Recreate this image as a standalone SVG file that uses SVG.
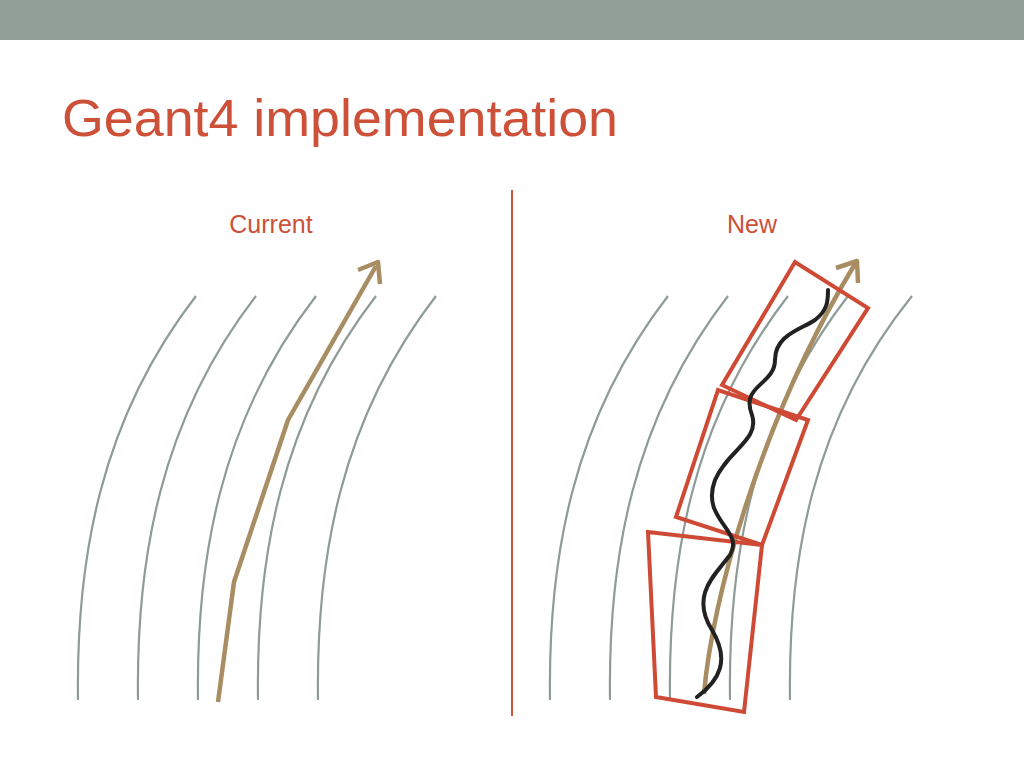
<svg xmlns="http://www.w3.org/2000/svg" width="1024" height="768" viewBox="0 0 1024 768">
<style>
.f{fill:none;stroke:#8d9c96;stroke-width:2.2}
.a{fill:none;stroke:#a88c62;stroke-width:4.5;stroke-linejoin:round}
.r{fill:none;stroke:#cf4a35;stroke-width:4}
.t{font-family:"Liberation Sans",Arial,sans-serif;fill:#cd5038}
</style>
<rect width="1024" height="768" fill="#fff"/>
<rect width="1024" height="40" fill="#929f98"/>
<text class="t" x="62" y="136" font-size="52" textLength="556" lengthAdjust="spacingAndGlyphs">Geant4 implementation</text>
<text class="t" x="271" y="233" font-size="25" text-anchor="middle">Current</text>
<text class="t" x="752" y="233" font-size="25" text-anchor="middle">New</text>
<line x1="512" y1="190" x2="512" y2="716" stroke="#c8553c" stroke-width="2"/>
<g id="fieldL">
<path class="f" d="M78,700 C76,560 100,420 196,296"/>
<path class="f" d="M138,700 C136,560 160,420 256,296"/>
<path class="f" d="M198,700 C196,560 220,420 316,296"/>
<path class="f" d="M258,700 C256,560 280,420 376,296"/>
<path class="f" d="M318,700 C316,560 340,420 436,296"/>
</g>
<g id="fieldR">
<path class="f" d="M550,700 C548,560 572,420 668,296"/>
<path class="f" d="M610,700 C608,560 632,420 728,296"/>
<path class="f" d="M670,700 C668,560 692,420 788,296"/>
<path class="f" d="M730,700 C728,560 752,420 848,296"/>
<path class="f" d="M790,700 C788,560 812,420 912,296"/>
</g>
<g id="arrowL">
<path class="a" d="M218,702 L234,582 L288,420 L376,266"/>
<path class="a" d="M358,270 L378,262 L380,284"/>
</g>
<g id="arrowR">
<path class="a" d="M704,694 C712,600 760,420 855,264"/>
<path class="a" d="M836,268 L857,261 L858,283"/>
</g>
<g id="boxes">
<polygon class="r" points="648,532 762,545 744,712 656,697"/>
<polygon class="r" points="676,517 718,390 808,420 762,545"/>
<polygon class="r" points="722,385 795,262 868,308 796,420"/>
</g>
<path id="track" fill="none" stroke="#222" stroke-width="4" stroke-linecap="round" d="M697,697 C720,680 730,660 712,630 C690,595 715,575 730,555 C745,530 700,520 715,480 C728,450 760,440 752,415 C740,385 775,385 775,360 C775,335 800,330 815,320 C828,310 828,300 828,290"/>
</svg>
